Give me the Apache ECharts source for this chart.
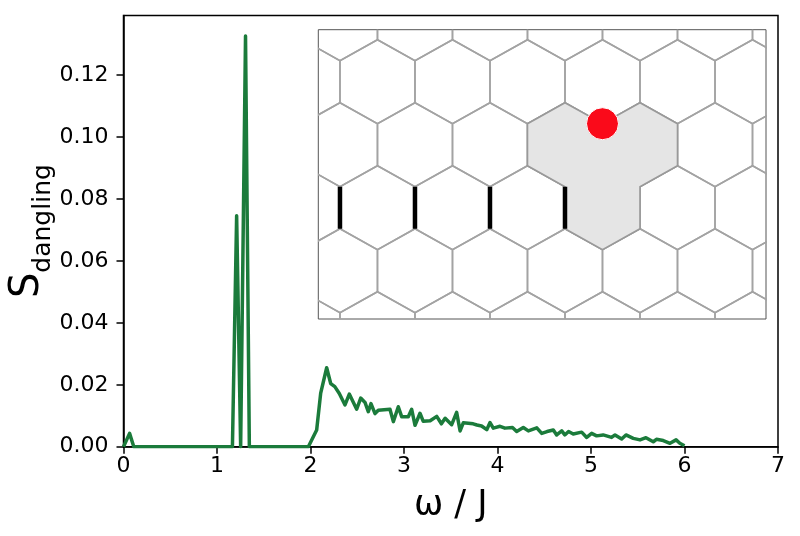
<!DOCTYPE html>
<html lang="en">
<head>
    <meta charset="utf-8">
    <title>S dangling spectrum</title>
    <script src="https://cdn.jsdelivr.net/npm/echarts@6/dist/echarts.min.js"></script>
    <style>
        html, body { margin: 0; padding: 0; background: #fff; }
        #main { width: 800px; height: 536px; }
    </style>
</head>
<body>
<div id="main"></div>
<script type="text/javascript">
    // spectrum
    var omega = [0, 0.065, 0.11, 1.165, 1.21, 1.253, 1.271, 1.305, 1.346, 1.977,
        2.066, 2.109, 2.173, 2.216, 2.26, 2.308, 2.369, 2.415, 2.494, 2.537,
        2.583, 2.618, 2.647, 2.69, 2.725, 2.85, 2.886, 2.939, 2.975, 3.046,
        3.082, 3.118, 3.171, 3.206, 3.28, 3.35, 3.40, 3.44, 3.51, 3.563,
        3.60, 3.634, 3.74, 3.78, 3.83, 3.885, 3.92, 3.955, 4.027, 4.08,
        4.16, 4.205, 4.276, 4.33, 4.42, 4.473, 4.53, 4.597, 4.633, 4.687,
        4.72, 4.76, 4.81, 4.9, 4.954, 5.007, 5.06, 5.13, 5.22, 5.257,
        5.328, 5.374, 5.452, 5.524, 5.588, 5.666, 5.70, 5.773, 5.845, 5.91,
        5.95, 6.0];
    var sDangling = [0, 0.0043, 0, 0, 0.0746, 0, 0, 0.1327, 0, 0,
        0.0054, 0.0173, 0.0255, 0.0204, 0.0194, 0.0172, 0.0135, 0.0170, 0.0121, 0.0157,
        0.0143, 0.0113, 0.0139, 0.0107, 0.0118, 0.0121, 0.0081, 0.0129, 0.0097, 0.0097,
        0.0121, 0.0069, 0.0108, 0.0082, 0.0084, 0.0098, 0.0074, 0.0092, 0.0071, 0.0111,
        0.0051, 0.0077, 0.0074, 0.0070, 0.0067, 0.0055, 0.0078, 0.0060, 0.0066, 0.0060,
        0.0062, 0.0049, 0.0062, 0.0051, 0.0061, 0.0043, 0.0049, 0.0054, 0.0038, 0.0051,
        0.0038, 0.0049, 0.0041, 0.0047, 0.0030, 0.0043, 0.0035, 0.0038, 0.0030, 0.0038,
        0.0025, 0.0038, 0.0027, 0.0022, 0.0029, 0.0016, 0.0024, 0.0020, 0.0011, 0.0022,
        0.0011, 0.0003];
    var yTicks = [0, 0.02, 0.04, 0.06, 0.08, 0.10, 0.12];

    // inset lattice (x: one hex width, y: half an edge)
    var rowsA = [0, -6, -12];      // rows with hex centres on half-integer x
    var rowsB = [3, -3, -9];       // rows with hex centres on integer x
    var trimerOutline = [[2.5, -2], [3, -1], [3.5, -2], [4, -1], [4.5, -2], [4.5, -4],
        [4, -5], [4, -7], [3.5, -8], [3, -7], [3, -5], [2.5, -4]];
    var barX = [0, 1, 2, 3];
    var barY = [-5, -7];
    var dot = [[3.5, -2]];

    var hexCenters = [];
    rowsA.forEach(function (y) {
        for (var k = -1; k <= 5; k++) hexCenters.push([k + 0.5, y]);
    });
    rowsB.forEach(function (y) {
        for (var k = -1; k <= 6; k++) hexCenters.push([k, y]);
    });
    var hexCorners = [[-0.5, 1], [0, 2], [0.5, 1], [0.5, -1], [0, -2], [-0.5, -1]];

    var line = omega.map(function (x, i) { return [x, sDangling[i]]; });

    var font = 'DejaVu Sans';
    var myChart = echarts.init(document.getElementById('main'), null, {renderer: 'canvas'});
    var option = {
        animation: false,
        backgroundColor: '#fff',
        grid: [
            {left: 123.5, top: 15.5, width: 654.5, height: 431.2, outerBoundsMode: 'none',
                show: true, borderColor: '#000', borderWidth: 1.5, backgroundColor: 'transparent'},
            {left: 318.3, top: 29.7, width: 447.7, height: 289.3, outerBoundsMode: 'none',
                show: true, borderColor: '#555', borderWidth: 1, backgroundColor: '#fff'}
        ],
        xAxis: [
            {
                type: 'value', gridIndex: 0, min: 0, max: 7, interval: 1,
                name: 'ω / J', nameLocation: 'middle', nameGap: 42, nameMoveOverlap: false,
                nameTextStyle: {fontFamily: font, fontSize: 35, color: '#000'},
                axisLine: {lineStyle: {color: '#000', width: 1.5}},
                axisTick: {length: 7, lineStyle: {color: '#000', width: 1.5}},
                axisLabel: {fontFamily: font, fontSize: 22, color: '#000', margin: 9},
                splitLine: {show: false}
            },
            {type: 'value', gridIndex: 1, min: -0.289, max: 5.68, show: false}
        ],
        yAxis: [
            {
                type: 'value', gridIndex: 0, min: 0, max: 0.1393, interval: 0.02,
                name: '{s|S}{d|dangling}', nameLocation: 'middle', nameGap: 68, nameRotate: 90,
                nameMoveOverlap: false,
                nameTextStyle: {
                    color: '#000',
                    rich: {
                        s: {fontFamily: font, fontSize: 40, color: '#000', verticalAlign: 'bottom', padding: [0, 0, 8, 0]},
                        d: {fontFamily: font, fontSize: 25, color: '#000', verticalAlign: 'bottom'}
                    }
                },
                axisLine: {lineStyle: {color: '#000', width: 1.5}},
                axisTick: {length: 7, customValues: yTicks, lineStyle: {color: '#000', width: 1.5}},
                axisLabel: {
                    fontFamily: font, fontSize: 22, color: '#000', margin: 15,
                    customValues: yTicks,
                    formatter: function (v) { return v.toFixed(2); }
                },
                splitLine: {show: false}
            },
            {type: 'value', gridIndex: 1, min: -11.30, max: 2.476, show: false}
        ],
        series: [
            {
                type: 'line', xAxisIndex: 0, yAxisIndex: 0, data: line,
                showSymbol: false, z: 3,
                lineStyle: {color: '#1b7b3b', width: 3.5, join: 'round'}
            },
            {
                type: 'custom', xAxisIndex: 1, yAxisIndex: 1, clip: true, z: 4,
                data: hexCenters,
                renderItem: function (params, api) {
                    var cx = api.value(0), cy = api.value(1);
                    var pts = hexCorners.map(function (c) { return api.coord([cx + c[0], cy + c[1]]); });
                    return {type: 'polygon', shape: {points: pts},
                        style: {fill: 'none', stroke: '#a3a3a3', lineWidth: 1.6}};
                }
            },
            {
                type: 'custom', xAxisIndex: 1, yAxisIndex: 1, clip: true, z: 5,
                data: [0],
                renderItem: function (params, api) {
                    var pts = trimerOutline.map(function (p) { return api.coord(p); });
                    return {type: 'polygon', shape: {points: pts},
                        style: {fill: '#e5e5e5', stroke: '#999', lineWidth: 1.6}};
                }
            },
            {
                type: 'custom', xAxisIndex: 1, yAxisIndex: 1, clip: true, z: 6,
                data: barX,
                renderItem: function (params, api) {
                    var x = api.value(0);
                    var p1 = api.coord([x, barY[0]]), p2 = api.coord([x, barY[1]]);
                    return {type: 'line', shape: {x1: p1[0], y1: p1[1], x2: p2[0], y2: p2[1]},
                        style: {stroke: '#000', lineWidth: 4.5}};
                }
            },
            {
                type: 'scatter', xAxisIndex: 1, yAxisIndex: 1, z: 7,
                data: dot, symbolSize: 32,
                itemStyle: {color: '#fa0a1a', borderColor: '#fff', borderWidth: 1, opacity: 1}
            }
        ]
    };
    myChart.setOption(option);
</script>
</body>
</html>
